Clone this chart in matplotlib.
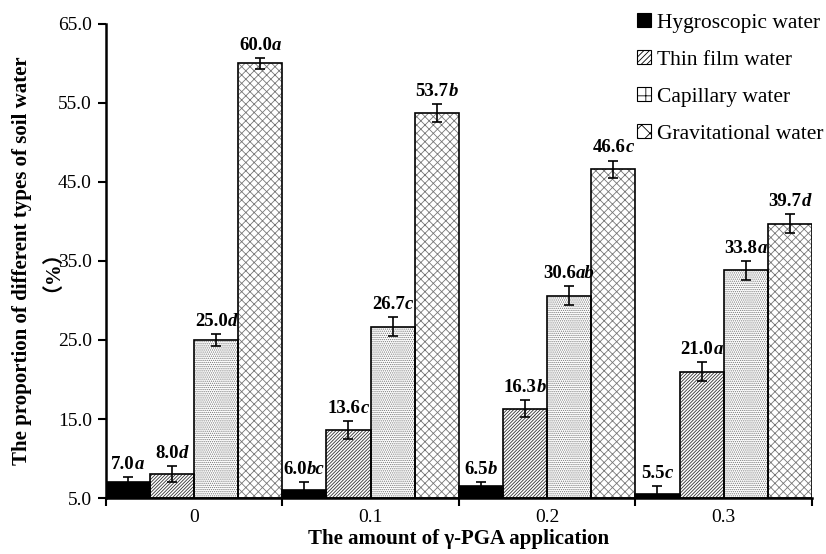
import matplotlib
matplotlib.use("Agg")
import matplotlib.pyplot as plt
from matplotlib.patches import Patch

plt.rcParams["font.family"] = ["Liberation Serif", "Noto Sans CJK SC"]
plt.rcParams["hatch.linewidth"] = 0.6

GROUPS = ["0", "0.1", "0.2", "0.3"]
SERIES = ["Hygroscopic water", "Thin film water", "Capillary water", "Gravitational water"]

hygroscopic   = [7.0, 6.0, 6.5, 5.5]
thin_film     = [8.0, 13.6, 16.3, 21.0]
capillary     = [25.0, 26.7, 30.6, 33.8]
gravitational = [60.0, 53.7, 46.6, 39.7]

hygroscopic_err   = [0.6, 1.0, 0.5, 1.0]
thin_film_err     = [1.0, 1.1, 1.05, 1.2]
capillary_err     = [0.7, 1.2, 1.2, 1.2]
gravitational_err = [0.7, 1.1, 1.1, 1.2]

hygroscopic_sig   = ["a", "bc", "b", "c"]
thin_film_sig     = ["d", "c", "b", "a"]
capillary_sig     = ["d", "c", "ab", "a"]
gravitational_sig = ["a", "b", "c", "d"]

values = [hygroscopic, thin_film, capillary, gravitational]
errors = [hygroscopic_err, thin_film_err, capillary_err, gravitational_err]
letters = [hygroscopic_sig, thin_film_sig, capillary_sig, gravitational_sig]

styles = [
    dict(face="black", hatch=None, hcol="black"),
    dict(face="white", hatch="//////////", hcol="#333333"),
    dict(face="white", hatch="........", hcol="#777777"),
    dict(face="white", hatch="xxxx", hcol="#777777"),
]

BASE = 5.0
fig = plt.figure(figsize=(8.26, 5.54), dpi=100)
ax = fig.add_axes([0.128, 0.101, 0.855, 0.856])

width = 0.25
offsets = [-0.375, -0.125, 0.125, 0.375]
x = list(range(len(GROUPS)))

label_texts = []
for s in range(4):
    xs = [xi + offsets[s] for xi in x]
    heights = [v - BASE for v in values[s]]
    st = styles[s]
    # hatch layer, then black outline on top
    ax.bar(xs, heights, width, bottom=BASE, color=st["face"], hatch=st["hatch"],
           edgecolor=st["hcol"], linewidth=0, zorder=2)
    ax.bar(xs, heights, width, bottom=BASE, facecolor="none",
           edgecolor="black", linewidth=1.2, zorder=3)
    ax.errorbar(xs, values[s], yerr=errors[s], fmt="none", ecolor="black",
                elinewidth=1.2, capsize=3.5, capthick=1.2, zorder=4)
    for xi, v, e, let in zip(xs, values[s], errors[s], letters[s]):
        t1 = ax.annotate(f"{v:.1f}", xy=(xi, v + e), xytext=(0, 3),
                         textcoords="offset points", ha="center", va="bottom",
                         fontsize=13.5, fontweight="bold", zorder=5)
        t2 = ax.annotate(let, xy=(1, 0), xycoords=t1, ha="left", va="bottom",
                         fontsize=13.5, fontweight="bold", fontstyle="italic", zorder=5)
        label_texts.append((t1, t2))

ax.set_xlim(-0.5, 3.5)
ax.set_ylim(5, 65)
yt = [5, 15, 25, 35, 45, 55, 65]
ax.set_yticks(yt)
ax.set_yticklabels([f"{v:.1f}" for v in yt], fontsize=14)
ax.set_xticks(x)
ax.set_xticklabels(GROUPS, fontsize=14)
ax.set_xticks([-0.5, 0.5, 1.5, 2.5, 3.5], minor=True)
ax.tick_params(axis="x", which="major", length=0, pad=8)
ax.tick_params(axis="x", which="minor", length=6, width=1.5, direction="out")
ax.tick_params(axis="y", length=6, width=1.5, direction="out", pad=4)

for spine in ("top", "right"):
    ax.spines[spine].set_visible(False)
for spine in ("left", "bottom"):
    ax.spines[spine].set_linewidth(1.8)

ax.set_xlabel("The amount of γ-PGA application", fontsize=15, fontweight="bold", labelpad=2)
ax.set_ylabel("The proportion of different types of soil water\n（%）", fontsize=15,
              fontweight="bold", labelpad=4, linespacing=1.0)

leg_hatches = [None, "//////", "++", "xx"]
handles = [Patch(facecolor=st["face"], hatch=h, edgecolor="black", linewidth=0.8)
           for st, h in zip(styles, leg_hatches)]
ax.legend(handles, SERIES, loc="upper left", bbox_to_anchor=(637 / 826, 1 - 13 / 554),
          bbox_transform=fig.transFigure, frameon=False, fontsize=15.5,
          handlelength=0.65, handleheight=0.65, handletextpad=0.3, labelspacing=0.8,
          borderpad=0, borderaxespad=0)

# center the combined number+letter labels over their bars
fig.canvas.draw()
r = fig.canvas.get_renderer()
for t1, t2 in label_texts:
    w = t2.get_window_extent(r).width
    t1.set_position((-w / 2 * 72 / fig.dpi, 3))

fig.savefig("out.png", dpi=100, facecolor="white")
